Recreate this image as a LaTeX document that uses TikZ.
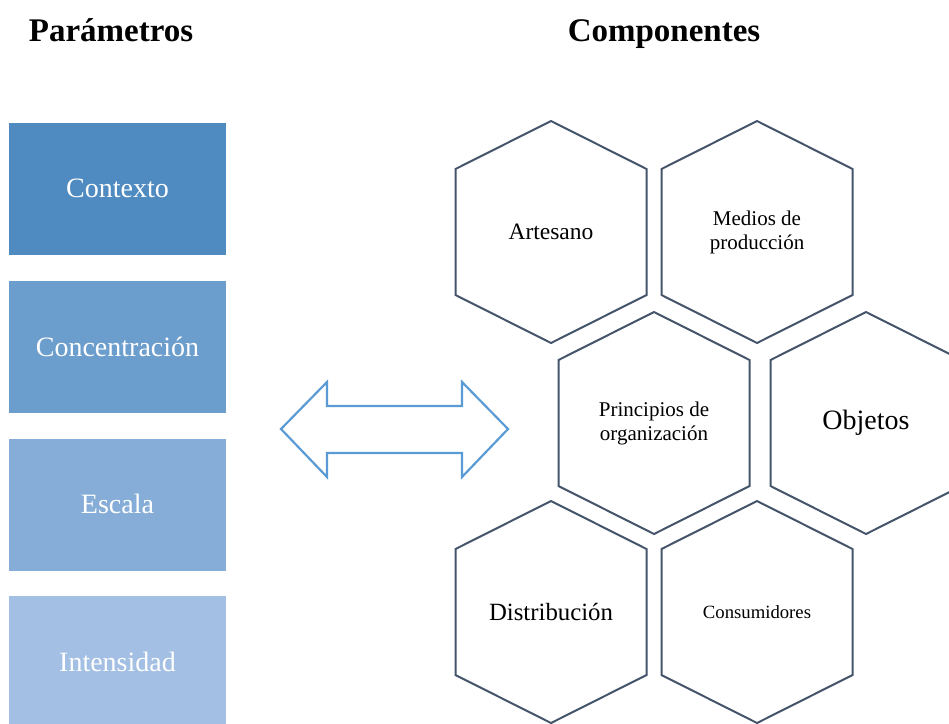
\documentclass[tikz,border=0pt]{standalone}
\usepackage{fontspec}
\setmainfont{Liberation Serif}
\usepackage{tikz}
\usetikzlibrary{positioning}
\definecolor{ctxblue}{HTML}{4F8BC0}
\definecolor{conblue}{HTML}{6B9DCD}
\definecolor{escblue}{HTML}{85ADD7}
\definecolor{intblue}{HTML}{A3BFE3}
\definecolor{hexgray}{HTML}{44546A}
\definecolor{arrowblue}{HTML}{5B9BD5}

\begin{document}
\begin{tikzpicture}[x=1pt,y=-1pt]
\tikzstyle{title} = [font=\fontsize{33}{38}\selectfont\bfseries, inner sep=0, anchor=base]
\tikzstyle{param} = [rectangle, draw=white, line width=0.8, text=white, minimum width=218, minimum height=133, inner sep=0, font=\fontsize{28}{32}\selectfont]
\tikzstyle{hexlabel} = [align=center, inner sep=0]
\tikzstyle{hexline} = [draw=hexgray, line width=2, line join=miter]
\tikzstyle{bigarrow} = [draw=arrowblue, line width=2.2, fill=white, line join=miter]
\useasboundingbox (0,0) rectangle (949,723);

% titles
\node[title] (tpar) at (111,41) {Parámetros};
\node[title] (tcomp) at (664,41) {Componentes};

% parametros
\node[param, fill=ctxblue] (ctx) at (117.5,188.8) {Contexto};
\node[param, fill=conblue, below=24pt of ctx] (con) {Concentración};
\node[param, fill=escblue, below=24pt of con] (esc) {Escala};
\node[param, fill=intblue, below=24pt of esc] (int) {Intensidad};

% doble flecha
\draw[bigarrow] (281,429) -- (327,382) -- (327,406) -- (462,406) -- (462,382) -- (508,429)
  -- (462,477) -- (462,453) -- (327,453) -- (327,477) -- cycle;

% componentes
\foreach \n/\x/\y/\s/\t in {art/551/232/23.5/Artesano,
    med/757/232/21/{Medios de\\producción},
    pri/654/423/21/{Principios de\\organización},
    obj/866/423/28/Objetos,
    dis/551/612/24.8/Distribución,
    cons/757/612/18.7/Consumidores}
{
  \node[hexlabel, font=\fontsize{\s}{24}\selectfont] (\n) at (\x,\y) {\t};
  \draw[hexline] (\n.center) ++(0,-111) -- ++(95.5,48) -- ++(0,126) -- ++(-95.5,48)
    -- ++(-95.5,-48) -- ++(0,-126) -- cycle;
}
\end{tikzpicture}
\end{document}
